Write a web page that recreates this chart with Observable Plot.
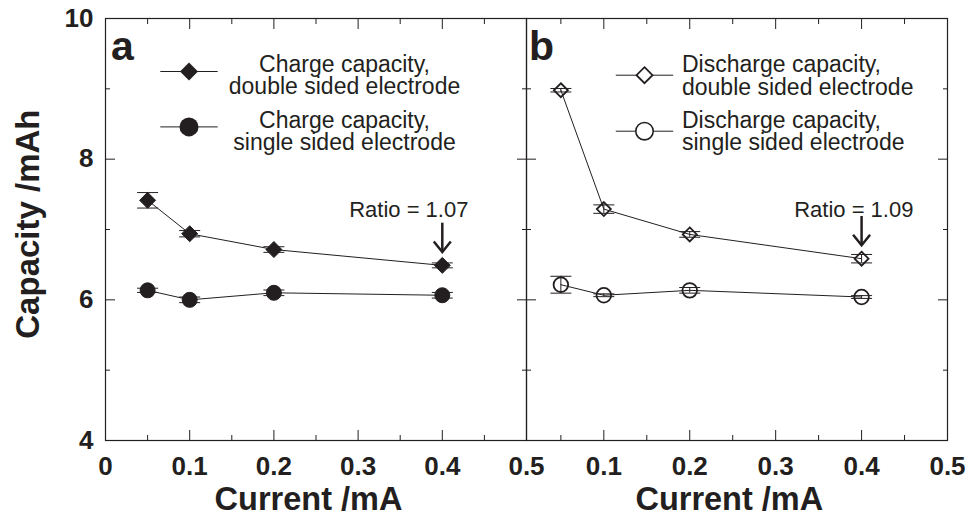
<!DOCTYPE html>
<html><head><meta charset="utf-8">
<script src="https://cdn.jsdelivr.net/npm/d3@7"></script>
<script src="https://cdn.jsdelivr.net/npm/@observablehq/plot@0.6"></script>
<style>
html,body{margin:0;padding:0;background:#fff;}
#chart{position:relative;width:971px;height:516px;overflow:hidden;background:#fff;}
#chart svg{position:absolute;left:0;top:0;}
</style></head><body><div id="chart"></div>
<script>
// ---- data ----
const currentA = [0.05, 0.1, 0.2, 0.4];
const chargeDouble = [7.415, 6.94, 6.715, 6.49];
const chargeDoubleErr = [0.11, 0.045, 0.04, 0.035];
const chargeSingle = [6.135, 6.0, 6.1, 6.065];
const chargeSingleErr = [0.03, 0.04, 0.04, 0.04];

const currentB = [0.05, 0.1, 0.2, 0.4];
const dischargeDouble = [8.98, 7.29, 6.93, 6.585];
const dischargeDoubleErr = [0.025, 0.06, 0.04, 0.06];
const dischargeSingle = [6.215, 6.065, 6.135, 6.04];
const dischargeSingleErr = [0.12, 0.02, 0.04, 0.02];

const yMajor = [4, 6, 8, 10];
const yMinor = [5, 7, 9];
const xMajorA = [0, 0.1, 0.2, 0.3, 0.4, 0.5];
const xMajorB = [0.1, 0.2, 0.3, 0.4, 0.5];
const xMinor = [0.05, 0.15, 0.25, 0.35, 0.45];

const legendA = ["Charge capacity,\ndouble sided electrode", "Charge capacity,\nsingle sided electrode"];
const legendB = ["Discharge capacity,\ndouble sided electrode", "Discharge capacity,\nsingle sided electrode"];
const panelLetters = ["a", "b"];
const ratioLabels = ["Ratio = 1.07", "Ratio = 1.09"];
const xTitle = "Current /mA";
const yTitle = "Capacity /mAh";

// ---- styling ----
const ink = "#231f20";
const font = "'Liberation Sans', Arial, Helvetica, sans-serif";
const W = 971, H = 516;
const fmt = d => `${d}`;

const hline = (w) => ({draw(ctx) { ctx.moveTo(-w, 0); ctx.lineTo(w, 0); }});
const cap = hline(10.5);
const legendLine = hline(28.7);
const arrowHead = {draw(ctx) { ctx.moveTo(-8.5, -10.5); ctx.lineTo(0, 0); ctx.lineTo(8.5, -10.5); }};

const rows = (xs, ys, es) => xs.map((x, i) => ({x, y: ys[i], e: es[i]}));

function axes(xMajor, showY) {
  const t = {stroke: ink, strokeWidth: 1, label: null};
  return [
    Plot.axisY(yMajor, {...t, anchor: "left", tickSize: -10, tickPadding: 22, tickFormat: fmt, fontSize: 26, fontWeight: "bold", fill: showY ? ink : "none"}),
    Plot.axisY(yMinor, {...t, anchor: "left", tickSize: -5, fill: "none"}),
    Plot.axisY(yMajor, {...t, anchor: "right", tickSize: -10, fill: "none"}),
    Plot.axisY(yMinor, {...t, anchor: "right", tickSize: -5, fill: "none"}),
    Plot.axisX(xMajor, {...t, anchor: "bottom", tickSize: -10, tickPadding: 26, tickFormat: fmt, fontSize: 26, fontWeight: "bold", fill: ink}),
    Plot.axisX(xMinor, {...t, anchor: "bottom", tickSize: -5, fill: "none"}),
    Plot.axisX(xMajor, {...t, anchor: "top", tickSize: -10, fill: "none"}),
    Plot.axisX(xMinor, {...t, anchor: "top", tickSize: -5, fill: "none"})
  ];
}

function series(data, symbol, r, filled, sw) {
  return [
    Plot.ruleX(data, {x: "x", y1: d => d.y - d.e, y2: d => d.y + d.e, stroke: ink, strokeWidth: 1}),
    Plot.dot(data, {x: "x", y: d => d.y - d.e, symbol: cap, r: 5, fill: "none", stroke: ink, strokeWidth: 1}),
    Plot.dot(data, {x: "x", y: d => d.y + d.e, symbol: cap, r: 5, fill: "none", stroke: ink, strokeWidth: 1}),
    Plot.line(data, {x: "x", y: "y", stroke: ink, strokeWidth: 1}),
    Plot.dot(data, {x: "x", y: "y", symbol, r, fill: filled ? ink : "none", stroke: ink, strokeWidth: sw})
  ];
}

function ratio(point, label, textDx) {
  return [
    Plot.text([label], {frameAnchor: "top-left", dx: textDx, dy: 198.4, textAnchor: "middle", lineAnchor: "bottom", fontSize: 22, fill: ink}),
    Plot.ruleX([point], {x: "x", y1: d => d.y + 0.6, y2: d => d.y + 0.19, stroke: ink, strokeWidth: 2.5}),
    Plot.dot([point], {x: "x", y: d => d.y + 0.19, symbol: arrowHead, r: 5, fill: "none", stroke: ink, strokeWidth: 2.5, strokeLinejoin: "miter"})
  ];
}

function makePlot(cfg) {
  return Plot.plot({
    width: W, height: H,
    marginTop: 18, marginBottom: 76,
    marginLeft: cfg.marginLeft, marginRight: cfg.marginRight,
    x: {domain: cfg.xDomain, label: null},
    y: {domain: [4, 10], label: null},
    style: {background: "transparent", color: ink, fontFamily: font, overflow: "visible"},
    marks: cfg.marks
  });
}

const dA = rows(currentA, chargeDouble, chargeDoubleErr);
const sA = rows(currentA, chargeSingle, chargeSingleErr);
const dB = rows(currentB, dischargeDouble, dischargeDoubleErr);
const sB = rows(currentB, dischargeSingle, dischargeSingleErr);

const plotA = makePlot({
  marginLeft: 105, marginRight: W - 526, xDomain: [0, 0.5],
  marks: [
    Plot.frame({stroke: ink, strokeWidth: 1.2}),
    ...axes(xMajorA, true),
    ...series(sA, "circle", 7.5, true, 1),
    ...series(dA, "diamond2", 7.2, true, 1),
    // legend
    Plot.dot([0], {frameAnchor: "top-left", dx: 83.5, dy: 53, symbol: legendLine, r: 5, fill: "none", stroke: ink, strokeWidth: 1}),
    Plot.dot([0], {frameAnchor: "top-left", dx: 83.5, dy: 53, symbol: "diamond2", r: 8.1, fill: ink}),
    Plot.dot([0], {frameAnchor: "top-left", dx: 83.5, dy: 108.4, symbol: legendLine, r: 5, fill: "none", stroke: ink, strokeWidth: 1}),
    Plot.dot([0], {frameAnchor: "top-left", dx: 83.5, dy: 108.4, symbol: "circle", r: 9.5, fill: ink}),
    Plot.text([legendA[0]], {frameAnchor: "top-left", dx: 239, dy: 75.7, textAnchor: "middle", lineAnchor: "bottom", lineHeight: 0.95, fontSize: 23, fill: ink}),
    Plot.text([legendA[1]], {frameAnchor: "top-left", dx: 239, dy: 131.2, textAnchor: "middle", lineAnchor: "bottom", lineHeight: 0.95, fontSize: 23, fill: ink}),
    Plot.text([panelLetters[0]], {frameAnchor: "top-left", dx: 5.5, dy: 41.7, textAnchor: "start", lineAnchor: "bottom", fontSize: 41, fontWeight: "bold", fill: ink}),
    ...ratio(dA[dA.length - 1], ratioLabels[0], 303.3),
    Plot.text([xTitle], {frameAnchor: "bottom", textAnchor: "middle", dx: -7.5, dy: 46.5, lineAnchor: "top", fontSize: 32.5, fontWeight: "bold", fill: ink}),
    Plot.text([yTitle], {frameAnchor: "left", textAnchor: "middle", rotate: -90, dx: -77.3, dy: -5.4, lineAnchor: "middle", fontSize: 33, fontWeight: "bold", fill: ink})
  ]
});

const plotB = makePlot({
  marginLeft: 526, marginRight: 24, xDomain: [0.01, 0.5],
  marks: [
    Plot.frame({stroke: ink, strokeWidth: 1.2}),
    ...axes(xMajorB, false),
    ...series(sB, "circle", 7.3, false, 1.8),
    ...series(dB, "diamond2", 6.3, false, 1.8),
    Plot.dot([0], {frameAnchor: "top-left", dx: 118, dy: 56.7, symbol: legendLine, r: 5, fill: "none", stroke: ink, strokeWidth: 1}),
    Plot.dot([0], {frameAnchor: "top-left", dx: 118, dy: 56.7, symbol: "diamond2", r: 7.2, fill: "white", stroke: ink, strokeWidth: 1.8}),
    Plot.dot([0], {frameAnchor: "top-left", dx: 118, dy: 112.7, symbol: legendLine, r: 5, fill: "none", stroke: ink, strokeWidth: 1}),
    Plot.dot([0], {frameAnchor: "top-left", dx: 118, dy: 112.7, symbol: "circle", r: 8.7, fill: "white", stroke: ink, strokeWidth: 1.6}),
    Plot.text([legendB[0]], {frameAnchor: "top-left", dx: 155.5, dy: 76, textAnchor: "start", lineAnchor: "bottom", lineHeight: 0.98, fontSize: 23, fill: ink}),
    Plot.text([legendB[1]], {frameAnchor: "top-left", dx: 155.5, dy: 131.7, textAnchor: "start", lineAnchor: "bottom", lineHeight: 0.98, fontSize: 23, fill: ink}),
    Plot.text([panelLetters[1]], {frameAnchor: "top-left", dx: 2.5, dy: 41.7, textAnchor: "start", lineAnchor: "bottom", fontSize: 41, fontWeight: "bold", fill: ink}),
    ...ratio(dB[dB.length - 1], ratioLabels[1], 327.3),
    Plot.text([xTitle], {frameAnchor: "bottom", textAnchor: "middle", dx: -7.7, dy: 46.5, lineAnchor: "top", fontSize: 32.5, fontWeight: "bold", fill: ink})
  ]
});

const chart = document.getElementById("chart");
chart.append(plotA, plotB);
</script></body></html>
